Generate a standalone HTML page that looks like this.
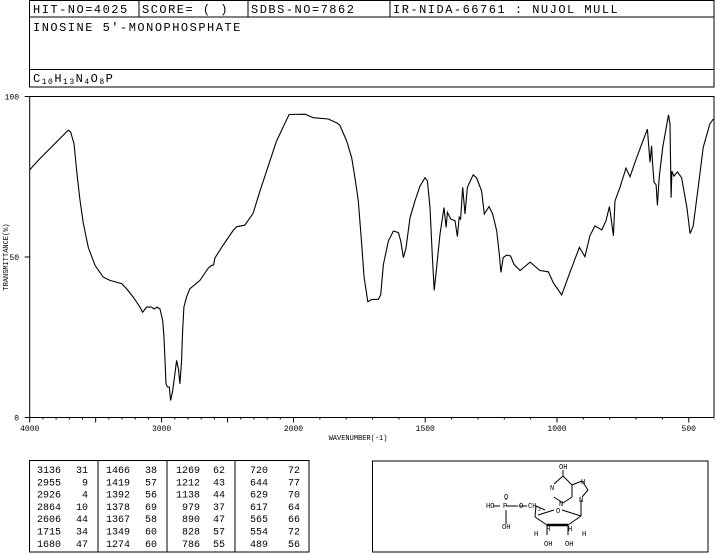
<!DOCTYPE html>
<html><head><meta charset="utf-8"><style>
body{margin:0;background:#fff;}
svg{display:block;font-family:"Liberation Mono",monospace;}
</style></head><body>
<svg id="c" width="715" height="553" viewBox="0 0 715 553">
<g fill="none" stroke="#000" stroke-width="1">
<rect x="29.5" y="0.5" width="684.5" height="86.5"/>
<line x1="29.5" y1="17" x2="714" y2="17"/>
<line x1="29.5" y1="69.5" x2="714" y2="69.5"/>
<line x1="139" y1="0" x2="139" y2="17"/>
<line x1="248" y1="0" x2="248" y2="17"/>
<line x1="390" y1="0" x2="390" y2="17"/>
</g>
<g font-size="12" letter-spacing="1.5" fill="#000">
<text x="33" y="13">HIT-NO=4025</text>
<text x="142" y="13">SCORE=  (   )</text>
<text x="251" y="13">SDBS-NO=7862</text>
<text x="393" y="13">IR-NIDA-66761 : NUJOL MULL</text>
<text x="33" y="31">INOSINE 5'-MONOPHOSPHATE</text>
<text x="33" y="82">C<tspan font-size="8" dy="2">10</tspan><tspan dy="-2">H</tspan><tspan font-size="8" dy="2">13</tspan><tspan dy="-2">N</tspan><tspan font-size="8" dy="2">4</tspan><tspan dy="-2">O</tspan><tspan font-size="8" dy="2">8</tspan><tspan dy="-2">P</tspan></text>
</g>
<g id="plot"></g>
<g>
<rect x="29.5" y="460.5" width="279.5" height="91.5" fill="none" stroke="#000"/>
<line x1="98" y1="460" x2="98" y2="552" stroke="#000"/>
<line x1="167" y1="460" x2="167" y2="552" stroke="#000"/>
<line x1="235" y1="460" x2="235" y2="552" stroke="#000"/>
<g id="ptab" font-size="10" fill="#000"></g>
</g>
<g stroke="#000" fill="none" font-size="7">
<rect x="372.5" y="461" width="335.5" height="91"/>
<g stroke-width="1">
<line x1="493" y1="506" x2="500" y2="506"/><line x1="506" y1="506" x2="518" y2="506"/>
<line x1="506" y1="500" x2="506" y2="498"/><line x1="506" y1="510" x2="506" y2="524"/>
<line x1="519" y1="506" x2="527" y2="506"/>
<line x1="536" y1="506" x2="545" y2="510"/>
<line x1="536" y1="506" x2="535" y2="517"/>
<line x1="535" y1="517" x2="547" y2="525"/>
<line x1="547" y1="525" x2="568" y2="525" stroke-width="2.5"/>
<line x1="568" y1="525" x2="581" y2="516"/>
<line x1="581" y1="516" x2="562" y2="510"/>
<line x1="554" y1="510" x2="538" y2="515"/>
<line x1="581" y1="516" x2="581" y2="500"/>
<line x1="547" y1="525" x2="547" y2="535"/><line x1="568" y1="525" x2="568" y2="535"/>
<line x1="563" y1="476" x2="572" y2="485"/><line x1="572" y1="485" x2="572" y2="497"/>
<line x1="572" y1="497" x2="563" y2="503"/><line x1="563" y1="503" x2="554" y2="497"/>
<line x1="554" y1="484" x2="563" y2="476"/>
<line x1="572" y1="485" x2="582" y2="481"/><line x1="582" y1="481" x2="588" y2="490"/>
<line x1="588" y1="490" x2="582" y2="497"/><line x1="563" y1="476" x2="563" y2="470"/>
</g>
<g fill="#000" stroke="none">
<text x="486" y="508">HO</text><text x="503" y="508">P</text><text x="504" y="499">O</text><text x="502" y="529">OH</text>
<text x="519" y="508">O</text><text x="528" y="508">CH</text><text x="538" y="511" font-size="5">2</text>
<text x="556" y="513">O</text><text x="546" y="531">H</text><text x="568" y="531">H</text>
<text x="534" y="536">H</text><text x="582" y="536">H</text>
<text x="544" y="546">OH</text><text x="565" y="546">OH</text>
<text x="559" y="469">OH</text><text x="550" y="490">N</text><text x="559" y="506">N</text>
<text x="579" y="502">N</text><text x="581" y="484">H</text>
</g>
</g>
</svg>
<script>
const wavenumbers=[4000,3922,3708,3690,3664,3639,3619,3594,3556,3505,3442,3391,3303,3265,3215,3164,3144,3114,3076,3058,3033,3012,2992,2982,2967,2955,2942,2932,2917,2899,2886,2872,2861,2848,2841,2831,2811,2786,2710,2647,2621,2606,2596,2545,2457,2432,2369,2306,2255,2205,2129,2033,1956,1925,1868,1834,1824,1798,1779,1767,1754,1741,1732,1718,1703,1678,1669,1659,1640,1621,1602,1593,1583,1573,1558,1539,1520,1501,1492,1482,1473,1466,1457,1444,1429,1421,1416,1403,1387,1378,1371,1366,1358,1349,1340,1318,1305,1286,1276,1258,1244,1229,1219,1213,1204,1191,1176,1163,1140,1102,1065,1033,1014,982,951,915,894,875,856,830,814,801,795,786,780,761,738,723,704,679,657,647,641,638,632,624,619,612,599,577,571,567,564,556,543,527,507,495,483,464,445,420,407];
const transmittance=[77.2,80.7,89.5,89,85.3,75,67.7,60.5,53,47.4,43.7,42.7,41.7,40.1,37.5,34.4,32.8,34.4,34.4,33.8,34.4,33.8,30.2,25,10.5,9.5,9.5,5.3,8,13.6,17.8,15,10.5,17.8,26.8,34.4,37.5,40.1,42.7,46.5,47.4,47.5,49.7,53,58.3,59.4,59.9,63.6,70.5,76.7,86.1,94.4,94.5,93.4,93,91.7,91,86.1,80.9,74.8,67.5,54,43.6,36.1,36.8,36.8,38.2,47.7,55,58.1,57.6,55,49.8,52.8,62.2,67.5,72.1,74.7,73.7,65.4,49.8,39.6,46.7,57.1,65.4,59.2,63.9,61.8,61.3,56.4,62.4,61.8,71.7,63.4,71.7,75.6,74.6,70.6,63.4,65.7,63.4,58.1,50.9,45.2,49.8,50.6,50.3,47.7,45.8,48.4,45.8,45.4,42,38.2,45.2,53,50.1,56.6,59.7,58.4,61.3,65.7,62.3,56.6,67.5,71.7,77.7,75,79.5,85.1,89.8,79.5,84.6,80,73.3,72.5,66.1,74.8,84.1,94.3,91.4,68.5,76.7,75.2,76.5,74.7,65.4,57.3,59.7,71.7,84.1,91.4,93];
const xTickLabels=["4000","3000","2000","1500","1000","500"];
const xTickValues=[4000,3000,2000,1500,1000,500];
const yTickValues=[100,50,0];
const peakWn=["3136","2955","2926","2864","2606","1715","1680","1466","1419","1392","1378","1367","1349","1274","1269","1212","1138","979","890","828","786","720","644","629","617","565","554","489"];
const peakT=["31","9","4","10","44","34","47","38","57","56","69","58","60","60","62","43","44","37","47","57","55","72","77","70","64","66","72","56"];

const NS="http://www.w3.org/2000/svg";
const X0=29.7,X2000=293.5,XR=714;
function xs(w){return w>=2000?X0+(4000-w)*0.1319:X2000+(2000-w)*0.2635;}
const YT=96.5,YB=417.5;
function ys(t){return YB-(t/100)*(YB-YT);}
function mk(tag,attrs,parent){const e=document.createElementNS(NS,tag);for(const k in attrs)e.setAttribute(k,attrs[k]);parent.appendChild(e);return e;}
const plot=document.getElementById('plot');
const frame=mk('path',{d:`M${X0},${YT} H${XR} V${YB} M${X0},${YT} V${YB} H${XR}`,fill:'none',stroke:'#000','stroke-width':1},plot);


// x ticks
for(let w=4000;w>=400;w-=100){
  const major=(w>=2000?w%500===0:w%500===0);
  const t=mk('line',{x1:xs(w),x2:xs(w),y1:YB,y2:YB+(major?5:2),stroke:'#000'},plot);
  
  
}
xTickValues.forEach((v,i)=>{
  const t=mk('text',{x:xs(v),y:431,'text-anchor':'middle','font-size':8,fill:'#000'},plot);
  t.textContent=xTickLabels[i];
  
  
});
yTickValues.forEach(v=>{
  const l=mk('line',{x1:X0-5,x2:X0,y1:ys(v),y2:ys(v),stroke:'#000'},plot);
  
  
  const t=mk('text',{x:19,y:ys(v)+3,'text-anchor':'end','font-size':8,fill:'#000'},plot);
  t.textContent=String(v);
  
  
});
const xt=mk('text',{x:358,y:440,'text-anchor':'middle','font-size':7,fill:'#000'},plot);
xt.textContent='WAVENUMBER(-1)';


const yt=mk('text',{x:0,y:0,'text-anchor':'middle','font-size':7,fill:'#000',transform:'translate(8,257) rotate(-90)'},plot);
yt.textContent='TRANSMITTANCE(%)';


let d='';
wavenumbers.forEach((w,i)=>{d+=(i?'L':'M')+xs(w).toFixed(1)+','+ys(transmittance[i]).toFixed(1);});
const line=mk('path',{d:d,fill:'none',stroke:'#000','stroke-width':1.1},plot);


// peak table
const ptab=document.getElementById('ptab');
const colX=[[37,88],[106,157],[174,225],[242,300]];
peakWn.forEach((w,i)=>{
  const c=Math.floor(i/7),r=i%7,y=473+r*12.3;
  const a=mk('text',{x:colX[c][0]+(c>=2?26:0),y:y,'text-anchor':c>=2?'end':'start'},ptab);
  a.textContent=w;
  
  
  const b=mk('text',{x:colX[c][1],y:y,'text-anchor':'end'},ptab);
  b.textContent=peakT[i];
  
  
});
</script>
</body></html>
